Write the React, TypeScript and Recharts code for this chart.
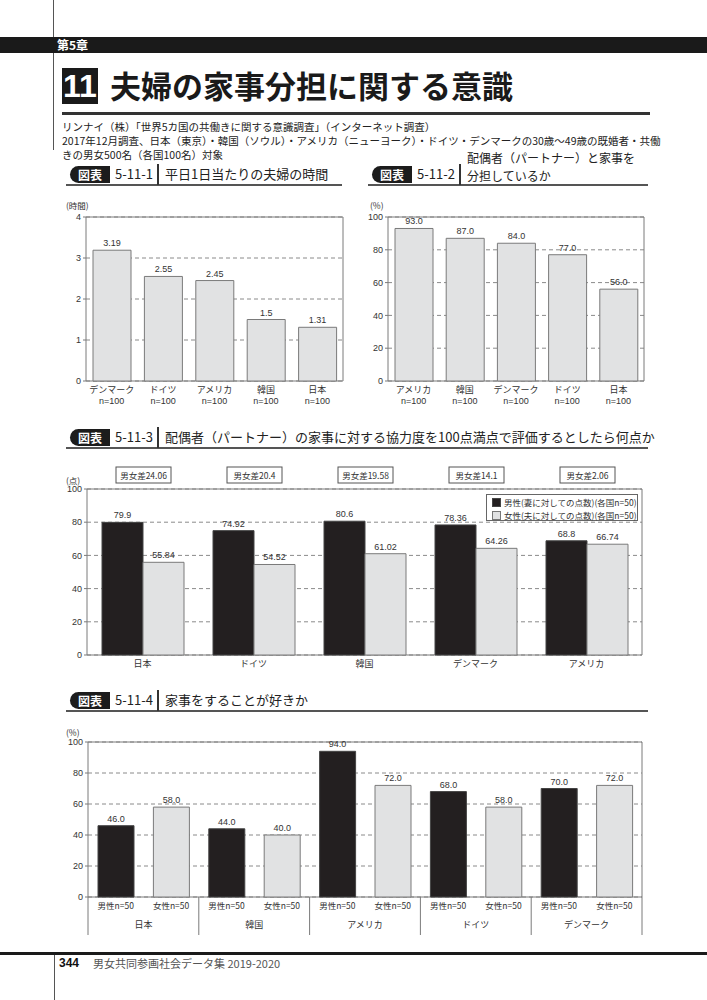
import React from 'react';
import {
  BarChart,
  Bar,
  XAxis,
  YAxis,
  CartesianGrid,
  LabelList,
  ReferenceArea,
  Cell,
} from 'recharts';

const NUM_FONT = '"Liberation Sans", "Noto Sans CJK JP", sans-serif';
const JP_FONT = '"Noto Sans CJK JP", sans-serif';

const BLACK = '#231f20';
const LIGHT = '#e1e2e3';
const EDGE = '#7a7a7a';
const GRID = '#8a8a8a';
const TEXT = '#333';

// 5-11-1 平日1日当たりの夫婦の時間
const timeCountries = ['デンマーク', 'ドイツ', 'アメリカ', '韓国', '日本'];
const timeHours = [3.19, 2.55, 2.45, 1.5, 1.31];
const timeTicks = [0, 1, 2, 3, 4];

// 5-11-2 配偶者と家事を分担しているか
const shareCountries = ['アメリカ', '韓国', 'デンマーク', 'ドイツ', '日本'];
const shareRates = [93, 87, 84, 77, 56];
const pctTicks = [0, 20, 40, 60, 80, 100];

// 5-11-3 協力度の点数
const scoreCountries = ['日本', 'ドイツ', '韓国', 'デンマーク', 'アメリカ'];
const scoreMale = [79.9, 74.92, 80.6, 78.36, 68.8];
const scoreFemale = [55.84, 54.52, 61.02, 64.26, 66.74];
const scoreGaps = ['24.06', '20.4', '19.58', '14.1', '2.06'];

// 5-11-4 家事をすることが好きか
const likeCountries = ['日本', '韓国', 'アメリカ', 'ドイツ', 'デンマーク'];
const likeMale = [46, 44, 94, 68, 70];
const likeFemale = [58, 40, 72, 58, 72];
const genderLabels = ['男性n=50', '女性n=50'];

const timeData = timeCountries.map((name, i) => ({ name, value: timeHours[i] }));
const shareData = shareCountries.map((name, i) => ({ name, value: shareRates[i] }));
const scoreData = scoreCountries.map((name, i) => ({
  name,
  male: scoreMale[i],
  female: scoreFemale[i],
  gap: scoreGaps[i],
}));
const likeData = likeCountries.flatMap((country, i) => [
  { key: `${country}-m`, label: genderLabels[0], country, value: likeMale[i], male: true },
  { key: `${country}-f`, label: genderLabels[1], country, value: likeFemale[i], male: false },
]);

const yTick = { fontSize: 9, fill: TEXT, fontFamily: NUM_FONT };
const labelStyle = { fontSize: 9, fill: TEXT, fontFamily: NUM_FONT };
const fixed1 = (v: any) => Number(v).toFixed(1);

const CountryNTick = (props: any) => {
  const { x, y, payload } = props;
  return (
    <g transform={`translate(${x},${y})`}>
      <text textAnchor="middle" fontSize={9} fill={TEXT} fontFamily={JP_FONT}>
        <tspan x={0} dy={12}>{payload.value}</tspan>
        <tspan x={0} dy={11} fontFamily={NUM_FONT}>n=100</tspan>
      </text>
    </g>
  );
};

const PlainTick = (props: any) => {
  const { x, y, payload } = props;
  return (
    <text x={x} y={y + 12} textAnchor="middle" fontSize={9} fill={TEXT} fontFamily={JP_FONT}>
      {payload.value}
    </text>
  );
};

const GenderTick = (props: any) => {
  const { x, y, index } = props;
  const row = likeData[index];
  return (
    <text x={x} y={y + 12} textAnchor="middle" fontSize={8.5} fill={TEXT} fontFamily={JP_FONT}>
      {row ? row.label : ''}
    </text>
  );
};

const CountryTick = (props: any) => {
  const { x, y, payload, index, width, visibleTicksCount } = props;
  const count = visibleTicksCount || likeCountries.length;
  const band = typeof width === 'number' ? width / count : 554 / count;
  const top = y - 18;
  const bottom = y + 20;
  return (
    <g>
      <line x1={x - band / 2} x2={x - band / 2} y1={top} y2={bottom} stroke={EDGE} />
      {index === count - 1 && (
        <line x1={x + band / 2} x2={x + band / 2} y1={top} y2={bottom} stroke={EDGE} />
      )}
      <text x={x} y={y + 13} textAnchor="middle" fontSize={9} fill={TEXT} fontFamily={JP_FONT}>
        {payload.value}
      </text>
    </g>
  );
};

const GapBox = (props: any) => {
  const vb = props.viewBox || {};
  const bx = typeof props.x === 'number' ? props.x : vb.x;
  const bw = typeof props.width === 'number' ? props.width : vb.width;
  const cx = bx + bw;
  return (
    <g>
      <rect x={cx - 27} y={7} width={55} height={16} fill="#fff" stroke="#555" />
      <text x={cx + 0.5} y={18.5} textAnchor="middle" fontSize={8.5} fill={TEXT} fontFamily={JP_FONT}>
        {`男女差${props.value}`}
      </text>
    </g>
  );
};

function FigHeader({ left, top, width, num, title }: any) {
  const twoLine = Array.isArray(title);
  return (
    <div
      style={{
        position: 'absolute',
        left,
        top,
        width,
        height: 20,
        borderBottom: '2px solid #555',
        fontFamily: JP_FONT,
        color: '#222',
      }}
    >
      <div
        style={{
          position: 'absolute',
          left: 4,
          top: 2,
          width: 40,
          height: 17,
          background: '#1c1c1c',
          borderRadius: '9px 0 0 9px',
          color: '#fff',
          fontSize: 12,
          fontWeight: 700,
          lineHeight: '17px',
          textAlign: 'center',
        }}
      >
        図表
      </div>
      <div style={{ position: 'absolute', left: 49, top: 0, fontSize: 13, lineHeight: '20px' }}>{num}</div>
      <div style={{ position: 'absolute', left: 91, top: 0, width: 2, height: 21, background: '#333' }} />
      <div
        style={{
          position: 'absolute',
          left: 99,
          top: twoLine ? -15 : 0,
          fontSize: twoLine ? 12 : 13,
          lineHeight: twoLine ? '17.5px' : '20px',
          whiteSpace: 'nowrap',
        }}
      >
        {twoLine ? title.map((t: string) => <div key={t}>{t}</div>) : title}
      </div>
    </div>
  );
}

const Unit = ({ left, top, text }: any) => (
  <div style={{ position: 'absolute', left, top, fontSize: 8.5, color: TEXT, fontFamily: JP_FONT, lineHeight: '10px' }}>
    {text}
  </div>
);

export default function App() {
  return (
    <div
      style={{
        position: 'absolute',
        left: 0,
        top: 0,
        width: 707,
        height: 1000,
        background: '#fff',
        fontFamily: JP_FONT,
        overflow: 'hidden',
      }}
    >
      {/* page frame */}
      <div style={{ position: 'absolute', left: 53, top: 0, width: 1, height: 150, background: '#555' }} />
      <div style={{ position: 'absolute', left: 0, top: 37, width: 707, height: 16, background: '#1a1a1a' }} />
      <div style={{ position: 'absolute', left: 57, top: 37, height: 16, lineHeight: '16px', color: '#fff', fontSize: 12, fontWeight: 700 }}>
        第5章
      </div>
      <div
        style={{
          position: 'absolute',
          left: 62,
          top: 68,
          width: 36,
          height: 36,
          background: '#1a1a1a',
          color: '#fff',
          fontSize: 32,
          fontWeight: 700,
          lineHeight: '36px',
          textAlign: 'center',
          fontFamily: NUM_FONT,
        }}
      >
        11
      </div>
      <div style={{ position: 'absolute', left: 110, top: 64, fontSize: 31, fontWeight: 700, lineHeight: '42px', color: '#1a1a1a', whiteSpace: 'nowrap' }}>
        夫婦の家事分担に関する意識
      </div>
      <div style={{ position: 'absolute', left: 62, top: 112, width: 588, height: 3, background: '#333' }} />
      <div style={{ position: 'absolute', left: 62, top: 120, fontSize: 10.5, lineHeight: '14px', color: '#222', whiteSpace: 'nowrap' }}>
        <div>リンナイ（株）「世界5カ国の共働きに関する意識調査」（インターネット調査）</div>
        <div>
          2017年12月調査、日本（東京）・韓国（ソウル）・アメリカ（ニューヨーク）・ドイツ・デンマークの30歳〜49歳の既婚者・共働
        </div>
        <div>きの男女500名（各国100名）対象</div>
      </div>

      {/* 5-11-1 */}
      <FigHeader left={66} top={164} width={276} num="5-11-1" title="平日1日当たりの夫婦の時間" />
      <Unit left={66} top={200} text="(時間)" />
      <div style={{ position: 'absolute', left: 40, top: 195 }}>
        <BarChart width={320} height={216} data={timeData} margin={{ top: 22, right: 17, left: 0, bottom: 0 }}>
          <CartesianGrid vertical={false} strokeDasharray="4 3" stroke={GRID} />
          <ReferenceArea y1={0} y2={4} fill="none" stroke={EDGE} ifOverflow="visible" />
          <XAxis dataKey="name" interval={0} tick={<CountryNTick />} tickSize={0} tickMargin={0} tickLine={false} axisLine={false} height={30} />
          <YAxis domain={[0, 4]} ticks={timeTicks} width={46} tick={yTick} tickSize={3} tickLine={{ stroke: EDGE }} axisLine={false} />
          <Bar dataKey="value" barSize={38} fill={LIGHT} stroke={EDGE} isAnimationActive={false}>
            <LabelList dataKey="value" position="top" offset={4} style={labelStyle} />
          </Bar>
        </BarChart>
      </div>

      {/* 5-11-2 */}
      <FigHeader left={368} top={164} width={280} num="5-11-2" title={['配偶者（パートナー）と家事を', '分担しているか']} />
      <Unit left={370} top={200} text="(%)" />
      <div style={{ position: 'absolute', left: 340, top: 195 }}>
        <BarChart width={310} height={216} data={shareData} margin={{ top: 22, right: 6, left: 0, bottom: 0 }}>
          <CartesianGrid vertical={false} strokeDasharray="4 3" stroke={GRID} />
          <ReferenceArea y1={0} y2={100} fill="none" stroke={EDGE} ifOverflow="visible" />
          <XAxis dataKey="name" interval={0} tick={<CountryNTick />} tickSize={0} tickMargin={0} tickLine={false} axisLine={false} height={30} />
          <YAxis domain={[0, 100]} ticks={pctTicks} width={48} tick={yTick} tickSize={3} tickLine={{ stroke: EDGE }} axisLine={false} />
          <Bar dataKey="value" barSize={38} fill={LIGHT} stroke={EDGE} isAnimationActive={false}>
            <LabelList dataKey="value" position="top" offset={4} formatter={fixed1} style={labelStyle} />
          </Bar>
        </BarChart>
      </div>

      {/* 5-11-3 */}
      <FigHeader
        left={66}
        top={427}
        width={582}
        num="5-11-3"
        title="配偶者（パートナー）の家事に対する協力度を100点満点で評価するとしたら何点か"
      />
      <Unit left={66} top={475} text="(点)" />
      <div style={{ position: 'absolute', left: 40, top: 460 }}>
        <BarChart width={610} height={215} data={scoreData} margin={{ top: 29, right: 8, left: 0, bottom: 0 }} barGap={0}>
          <CartesianGrid vertical={false} strokeDasharray="4 3" stroke={GRID} />
          <ReferenceArea y1={0} y2={100} fill="none" stroke={EDGE} ifOverflow="visible" />
          <XAxis dataKey="name" interval={0} tick={<PlainTick />} tickSize={0} tickMargin={0} tickLine={false} axisLine={false} height={20} />
          <YAxis domain={[0, 100]} ticks={pctTicks} width={47} tick={yTick} tickSize={3} tickLine={{ stroke: EDGE }} axisLine={false} />
          <Bar dataKey="male" barSize={41} fill={BLACK} stroke="#444" isAnimationActive={false}>
            <LabelList dataKey="male" position="top" offset={4} style={labelStyle} />
            <LabelList dataKey="gap" content={<GapBox />} />
          </Bar>
          <Bar dataKey="female" barSize={41} fill={LIGHT} stroke={EDGE} isAnimationActive={false}>
            <LabelList dataKey="female" position="top" offset={4} style={labelStyle} />
          </Bar>
        </BarChart>
      </div>
      <div
        style={{
          position: 'absolute',
          left: 486,
          top: 494,
          width: 152,
          height: 27,
          border: '1px solid #666',
          background: '#fff',
          fontSize: 8.5,
          lineHeight: '13px',
          color: TEXT,
          padding: '1px 0 0 5px',
          boxSizing: 'border-box',
          whiteSpace: 'nowrap',
        }}
      >
        <div style={{ display: 'flex', alignItems: 'center' }}>
          <span style={{ width: 7, height: 7, background: BLACK, border: '1px solid #444', marginRight: 3 }} />
          男性(妻に対しての点数)(各国n=50)
        </div>
        <div style={{ display: 'flex', alignItems: 'center' }}>
          <span style={{ width: 7, height: 7, background: LIGHT, border: '1px solid #777', marginRight: 3 }} />
          女性(夫に対しての点数)(各国n=50)
        </div>
      </div>

      {/* 5-11-4 */}
      <FigHeader left={66} top={690} width={582} num="5-11-4" title="家事をすることが好きか" />
      <Unit left={66} top={727} text="(%)" />
      <div style={{ position: 'absolute', left: 40, top: 725 }}>
        <BarChart width={610} height={217} data={likeData} margin={{ top: 17, right: 8, left: 0, bottom: 0 }}>
          <CartesianGrid vertical={false} strokeDasharray="4 3" stroke={GRID} />
          <ReferenceArea y1={0} y2={100} fill="none" stroke={EDGE} ifOverflow="visible" />
          <XAxis dataKey="key" interval={0} tick={<GenderTick />} tickSize={0} tickMargin={0} tickLine={false} axisLine={false} height={18} />
          <XAxis
            xAxisId="country"
            dataKey="country"
            allowDuplicatedCategory={false}
            interval={0}
            tick={<CountryTick />}
            tickSize={0}
            tickMargin={0}
            tickLine={false}
            axisLine={false}
            height={27}
          />
          <YAxis domain={[0, 100]} ticks={pctTicks} width={48} tick={yTick} tickSize={3} tickLine={{ stroke: EDGE }} axisLine={false} />
          <Bar dataKey="value" barSize={36} isAnimationActive={false}>
            {likeData.map((d) => (
              <Cell key={d.key} fill={d.male ? BLACK : LIGHT} stroke={d.male ? '#444' : EDGE} />
            ))}
            <LabelList dataKey="value" position="top" offset={4} formatter={fixed1} style={labelStyle} />
          </Bar>
        </BarChart>
      </div>

      {/* footer */}
      <div style={{ position: 'absolute', left: 0, top: 952, width: 707, height: 3, background: '#1a1a1a' }} />
      <div style={{ position: 'absolute', left: 54, top: 955, width: 1, height: 45, background: '#555' }} />
      <div style={{ position: 'absolute', left: 59, top: 956, fontSize: 12, fontWeight: 700, lineHeight: '14px', color: '#111', fontFamily: NUM_FONT }}>
        344
      </div>
      <div style={{ position: 'absolute', left: 93, top: 956, fontSize: 11, lineHeight: '14px', color: '#555' }}>
        男女共同参画社会データ集 2019-2020
      </div>
    </div>
  );
}
